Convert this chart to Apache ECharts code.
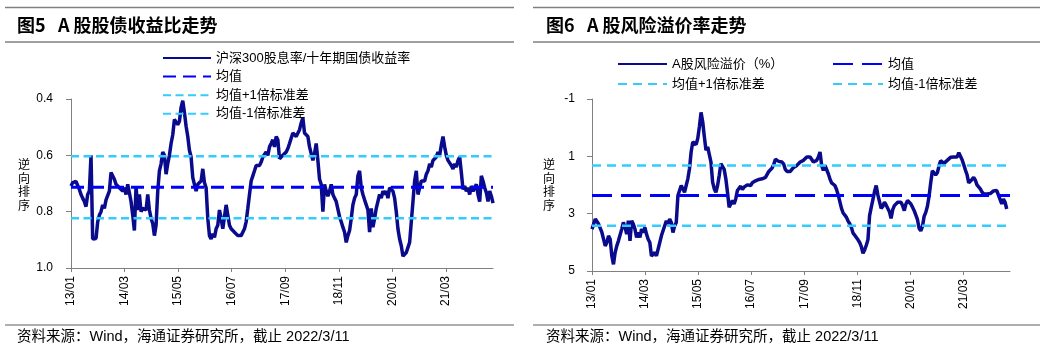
<!DOCTYPE html>
<html>
<head>
<meta charset="utf-8">
<script src="https://cdn.jsdelivr.net/npm/echarts@6/dist/echarts.min.js"></script>
<style>
  html, body { margin: 0; padding: 0; background: #fff; }
  #chart { width: 1050px; height: 350px; }
</style>
</head>
<body>
<div id="chart"></div>
<script>
// Sampling step of both series, in months from 2013-01 (about two weeks)
const MONTH_STEP = 0.436;
const X_MAX = 110.3;              // 2022-03-11
const X_TICK_STEP = 14;           // months between axis labels
const xTickLabels = ['13/01', '14/03', '15/05', '16/07', '17/09', '18/11', '20/01', '21/03'];

// 图5: 沪深300股息率/十年期国债收益率
const yieldRatio = [
  0.709, 0.697, 0.691, 0.693, 0.697, 0.721, 0.739, 0.752, 0.764, 0.782,
  0.739, 0.727, 0.600, 0.897, 0.897, 0.895, 0.836, 0.812, 0.800, 0.776,
  0.788, 0.758, 0.752, 0.727, 0.661, 0.667, 0.685, 0.703, 0.697, 0.715,
  0.709, 0.727, 0.715, 0.739, 0.703, 0.733, 0.764, 0.812, 0.867, 0.709,
  0.794, 0.739, 0.800, 0.788, 0.794, 0.794, 0.739, 0.794, 0.824, 0.842,
  0.885, 0.848, 0.727, 0.655, 0.630, 0.588, 0.600, 0.667, 0.630, 0.600,
  0.558, 0.527, 0.473, 0.467, 0.491, 0.479, 0.430, 0.406, 0.448, 0.497,
  0.533, 0.582, 0.606, 0.679, 0.703, 0.727, 0.703, 0.709, 0.691, 0.648,
  0.697, 0.715, 0.824, 0.885, 0.897, 0.879, 0.891, 0.861, 0.848, 0.794,
  0.824, 0.861, 0.855, 0.776, 0.770, 0.848, 0.861, 0.855, 0.873, 0.879,
  0.885, 0.885, 0.885, 0.879, 0.861, 0.836, 0.788, 0.739, 0.691, 0.673,
  0.655, 0.636, 0.630, 0.636, 0.624, 0.606, 0.600, 0.588, 0.600, 0.570,
  0.558, 0.545, 0.570, 0.533, 0.545, 0.612, 0.618, 0.600, 0.600, 0.588,
  0.576, 0.558, 0.539, 0.521, 0.527, 0.533, 0.527, 0.509, 0.485, 0.467,
  0.521, 0.521, 0.533, 0.570, 0.570, 0.618, 0.594, 0.558, 0.618, 0.685,
  0.703, 0.800, 0.703, 0.727, 0.745, 0.727, 0.703, 0.739, 0.752, 0.764,
  0.764, 0.818, 0.836, 0.855, 0.873, 0.909, 0.885, 0.867, 0.824, 0.776,
  0.752, 0.739, 0.673, 0.655, 0.715, 0.739, 0.758, 0.776, 0.794, 0.873,
  0.788, 0.855, 0.824, 0.788, 0.782, 0.739, 0.752, 0.727, 0.739, 0.727,
  0.752, 0.715, 0.709, 0.727, 0.752, 0.800, 0.861, 0.897, 0.921, 0.958,
  0.964, 0.945, 0.939, 0.909, 0.836, 0.764, 0.691, 0.655, 0.739, 0.715,
  0.691, 0.685, 0.691, 0.667, 0.655, 0.630, 0.642, 0.618, 0.624, 0.606,
  0.588, 0.600, 0.564, 0.533, 0.570, 0.600, 0.618, 0.624, 0.636, 0.648,
  0.630, 0.642, 0.618, 0.606, 0.661, 0.721, 0.709, 0.727, 0.715, 0.739,
  0.709, 0.727, 0.733, 0.703, 0.739, 0.764, 0.673, 0.691, 0.715, 0.733,
  0.764, 0.727, 0.745, 0.770
];
const ratioMean = 0.713;
const ratioStd = 0.110;

// 图6: A股风险溢价（%）
const riskPremium = [
  3.539, 3.363, 3.188, 3.246, 3.363, 3.305, 3.656, 3.890, 4.124, 4.007,
  3.773, 3.890, 4.475, 4.767, 4.358, 4.124, 3.948, 3.890, 3.539, 3.305,
  3.480, 3.714, 3.246, 3.948, 3.246, 3.363, 3.539, 3.831, 3.656, 3.831,
  3.539, 3.656, 3.480, 3.714, 3.890, 4.007, 4.475, 4.533, 4.358, 4.475,
  4.241, 4.182, 3.773, 3.597, 3.422, 3.246, 3.363, 3.188, 3.305, 3.656,
  3.422, 3.305, 2.369, 2.193, 2.018, 1.959, 2.252, 2.018, 1.784, 1.433,
  0.848, 0.497, 0.497, 0.590, 0.380, -0.030, -0.533, -0.205, 0.321, 0.789,
  0.672, 0.672, 1.199, 1.901, 2.135, 2.252, 2.018, 1.667, 1.257, 1.316,
  1.456, 1.784, 2.252, 2.778, 2.720, 2.544, 2.661, 2.486, 2.193, 2.252,
  2.041, 2.158, 2.076, 2.018, 1.995, 2.041, 2.018, 1.924, 1.901, 1.854,
  1.878, 1.807, 1.831, 1.784, 1.784, 1.737, 1.690, 1.527, 1.550, 1.410,
  1.281, 1.105, 1.105, 1.176, 1.152, 1.199, 1.269, 1.456, 1.527, 1.503,
  1.527, 1.456, 1.386, 1.339, 1.316, 1.257, 1.199, 1.140, 1.140, 1.082,
  1.023, 1.082, 1.023, 1.082, 1.199, 1.140, 1.140, 1.023, 0.848, 1.316,
  1.491, 1.316, 1.374, 1.608, 1.784, 1.924, 1.901, 2.018, 2.158, 2.346,
  2.580, 2.814, 2.977, 3.048, 3.129, 3.258, 3.352, 3.480, 3.679, 3.750,
  3.831, 3.913, 4.007, 4.147, 4.381, 4.264, 4.101, 3.913, 3.071, 2.778,
  2.509, 2.229, 2.018, 2.346, 2.580, 2.814, 2.743, 2.603, 2.697, 2.720,
  2.931, 3.165, 2.860, 2.720, 2.661, 2.603, 2.661, 2.603, 2.720, 2.895,
  2.661, 2.544, 2.486, 2.661, 2.778, 2.895, 2.954, 3.211, 3.516, 3.597,
  3.445, 3.094, 2.954, 2.743, 2.392, 1.924, 1.503, 1.491, 1.644, 1.573,
  1.339, 1.152, 1.140, 1.246, 1.199, 1.140, 1.199, 1.035, 1.082, 1.023,
  1.023, 1.023, 0.871, 0.906, 1.117, 1.293, 1.480, 1.644, 1.924, 1.971,
  1.807, 1.737, 1.831, 1.995, 2.065, 2.135, 2.240, 2.310, 2.252, 2.310,
  2.252, 2.299, 2.252, 2.205, 2.147, 2.193, 2.252, 2.509, 2.661, 2.486,
  2.603, 2.837
];
const premiumMean = 2.37;
const premiumStd = 1.05;

const NAVY = '#0a0a8c';
const BLUE = '#0000ff';
const SKY = '#33ccff';
const LATIN = 'Arial, "Liberation Sans", "Noto Sans CJK SC", sans-serif';
const CJK = '"Noto Sans CJK SC", sans-serif';

const toPoints = vals => vals.map((v, i) => [i * MONTH_STEP, v]);
const flat = v => [[0, v], [X_MAX, v]];

function xAxisFor(gridIndex) {
  return {
    type: 'value', gridIndex, min: 0, max: X_MAX, interval: X_TICK_STEP,
    axisLine: { onZero: false, lineStyle: { color: '#808080', width: 1 } },
    axisTick: { length: 4, lineStyle: { color: '#808080' } },
    splitLine: { show: false },
    axisLabel: {
      rotate: 90, margin: 8, color: '#000', fontSize: 12, fontFamily: LATIN,
      showMaxLabel: false,
      formatter: v => xTickLabels[Math.round(v / X_TICK_STEP)] || ''
    }
  };
}

function yAxisFor(gridIndex, min, max, interval, fmt, margin) {
  return {
    type: 'value', gridIndex, min, max, interval, inverse: true,
    axisLine: { show: true, onZero: false, lineStyle: { color: '#808080', width: 1 } },
    axisTick: { show: true, length: 5, lineStyle: { color: '#808080' } },
    splitLine: { show: false },
    axisLabel: { margin, color: '#000', fontSize: 12, fontFamily: LATIN, formatter: fmt }
  };
}

function refLine(name, idx, value, color, width, dash) {
  return {
    name, type: 'line', xAxisIndex: idx, yAxisIndex: idx, data: flat(value),
    symbol: 'none', silent: true,
    itemStyle: { color },
    lineStyle: { color, width, type: dash }
  };
}

const legendText = { fontSize: 13, fontFamily: LATIN, color: '#000', lineHeight: 14 };
// legend keys show only the line stroke, no point symbol
const legendKey = { opacity: 0 };

const chart = echarts.init(document.getElementById('chart'), null, { renderer: 'canvas' });
chart.setOption({
  animation: false,
  grid: [
    { left: 71, top: 99, width: 422, height: 169 },
    { left: 592, top: 99, width: 418, height: 172 }
  ],
  xAxis: [xAxisFor(0), xAxisFor(1)],
  yAxis: [
    yAxisFor(0, 0.4, 1.0, 0.2, v => v.toFixed(1), 18),
    yAxisFor(1, -1, 5, 2, v => String(v), 17)
  ],
  legend: [
    {
      orient: 'vertical', left: 157, top: 46, itemWidth: 48, itemHeight: 14, itemGap: 4.6,
      textStyle: legendText, selectedMode: false, itemStyle: legendKey,
      data: ['沪深300股息率/十年期国债收益率', '均值', '均值+1倍标准差', '均值-1倍标准差']
    },
    {
      orient: 'vertical', left: 612, top: 52, itemWidth: 49, itemHeight: 14, itemGap: 6,
      textStyle: legendText, selectedMode: false, itemStyle: legendKey,
      data: ['A股风险溢价（%）', '均值+1倍标准差 ']
    },
    {
      orient: 'vertical', left: 827, top: 52, itemWidth: 50, itemHeight: 14, itemGap: 6,
      textStyle: legendText, selectedMode: false, itemStyle: legendKey,
      data: ['均值 ', '均值-1倍标准差 ']
    }
  ],
  series: [
    {
      name: '沪深300股息率/十年期国债收益率', type: 'line', xAxisIndex: 0, yAxisIndex: 0,
      data: toPoints(yieldRatio), symbol: 'none',
      itemStyle: { color: NAVY },
      lineStyle: { color: NAVY, width: 3.5 }
    },
    refLine('均值', 0, ratioMean, BLUE, 3, [13, 7]),
    refLine('均值+1倍标准差', 0, ratioMean - ratioStd, SKY, 2.5, [8, 4.5]),
    refLine('均值-1倍标准差', 0, ratioMean + ratioStd, SKY, 2.5, [8, 4.5]),
    {
      name: 'A股风险溢价（%）', type: 'line', xAxisIndex: 1, yAxisIndex: 1,
      data: toPoints(riskPremium), symbol: 'none',
      itemStyle: { color: NAVY },
      lineStyle: { color: NAVY, width: 3.5 }
    },
    refLine('均值 ', 1, premiumMean, BLUE, 3, [20, 9]),
    refLine('均值+1倍标准差 ', 1, premiumMean - premiumStd, SKY, 2.5, [9, 6]),
    refLine('均值-1倍标准差 ', 1, premiumMean + premiumStd, SKY, 2.5, [9, 6])
  ],
  graphic: [
    // panel frames
    { type: 'line', shape: { x1: 5, y1: 7.5, x2: 514, y2: 7.5 }, style: { stroke: '#808080', lineWidth: 1.5 } },
    { type: 'line', shape: { x1: 5, y1: 42, x2: 514, y2: 42 }, style: { stroke: '#808080', lineWidth: 1.5 } },
    { type: 'line', shape: { x1: 5, y1: 325, x2: 514, y2: 325 }, style: { stroke: '#606060', lineWidth: 1.2 } },
    { type: 'line', shape: { x1: 533, y1: 7.5, x2: 1040, y2: 7.5 }, style: { stroke: '#808080', lineWidth: 1.5 } },
    { type: 'line', shape: { x1: 533, y1: 42, x2: 1040, y2: 42 }, style: { stroke: '#808080', lineWidth: 1.5 } },
    { type: 'line', shape: { x1: 533, y1: 325, x2: 1040, y2: 325 }, style: { stroke: '#606060', lineWidth: 1.2 } },
    // titles
    { type: 'text', left: 17, top: 16, style: { text: '图5', font: 'bold 18px ' + CJK, fill: '#000' } },
    { type: 'text', left: 58, top: 16, style: { text: 'A 股股债收益比走势', font: 'bold 18px ' + CJK, fill: '#000' } },
    { type: 'text', left: 546, top: 16, style: { text: '图6', font: 'bold 18px ' + CJK, fill: '#000' } },
    { type: 'text', left: 587, top: 16, style: { text: 'A 股风险溢价率走势', font: 'bold 18px ' + CJK, fill: '#000' } },
    // y-axis names
    { type: 'text', left: 18, top: 158, style: { text: '逆\n向\n排\n序', font: '12px ' + CJK, lineHeight: 13.5, fill: '#000' } },
    { type: 'text', left: 543, top: 158, style: { text: '逆\n向\n排\n序', font: '12px ' + CJK, lineHeight: 13.5, fill: '#000' } },
    // sources
    { type: 'text', left: 17, top: 330, style: { text: '资料来源：Wind，海通证券研究所，截止 2022/3/11', font: '14.5px ' + LATIN, fill: '#000' } },
    { type: 'text', left: 546, top: 330, style: { text: '资料来源：Wind，海通证券研究所，截止 2022/3/11', font: '14.5px ' + LATIN, fill: '#000' } }
  ]
});
</script>
</body>
</html>
